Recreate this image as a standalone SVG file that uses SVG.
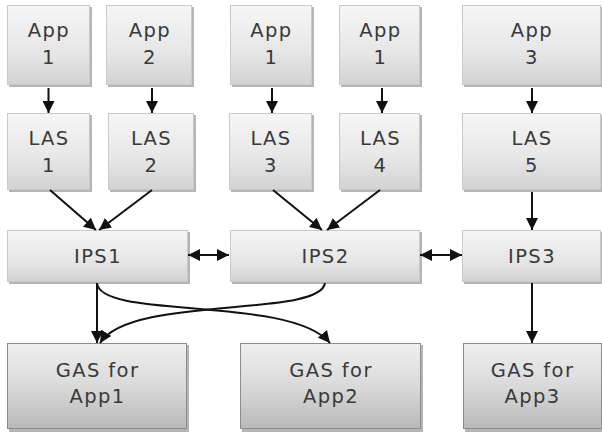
<svg xmlns="http://www.w3.org/2000/svg" width="602" height="436" viewBox="0 0 602 436">
<defs>
<linearGradient id="gl" x1="0" y1="0" x2="0" y2="1">
<stop offset="0" stop-color="#f6f6f6"/><stop offset="0.6" stop-color="#e6e6e6"/><stop offset="1" stop-color="#d2d2d2"/>
</linearGradient>
<linearGradient id="gd" x1="0" y1="0" x2="0" y2="1">
<stop offset="0" stop-color="#efefef"/><stop offset="0.5" stop-color="#dadada"/><stop offset="1" stop-color="#b8b8b8"/>
</linearGradient>
<marker id="ah" viewBox="0 0 10 10" refX="10" refY="5" markerWidth="12" markerHeight="12" markerUnits="userSpaceOnUse" orient="auto-start-reverse">
<path d="M0,0 L10,5 L0,10 z" fill="#111"/>
</marker>
</defs>
<style>
.sh{fill:#b5b5b5;}
.bl{fill:url(#gl);stroke:#cacaca;stroke-width:1;}
.bd{fill:url(#gd);stroke:#8c8c8c;stroke-width:1;}
text{font-family:"DejaVu Sans","Verdana",sans-serif;font-size:19.5px;letter-spacing:1.4px;fill:#3a3a3a;text-anchor:middle;}
.c{fill:none;stroke:#111;stroke-width:2;marker-end:url(#ah);}
.cb{fill:none;stroke:#111;stroke-width:2;marker-start:url(#ah);marker-end:url(#ah);}
</style>
<rect width="602" height="436" fill="#fff"/>
<g id="app1a"><rect class="sh" x="9" y="7" width="83" height="80"/><rect class="bl" x="7.5" y="5.5" width="82" height="79"/><text x="49" y="37">App</text><text x="49" y="64">1</text></g>
<g id="app2"><rect class="sh" x="108" y="7" width="86" height="80"/><rect class="bl" x="106.5" y="5.5" width="85" height="79"/><text x="150" y="37">App</text><text x="150" y="64">2</text></g>
<g id="app1b"><rect class="sh" x="232" y="7" width="82" height="80"/><rect class="bl" x="230.5" y="5.5" width="81" height="79"/><text x="271.5" y="37">App</text><text x="271.5" y="64">1</text></g>
<g id="app1c"><rect class="sh" x="341" y="7" width="81" height="80"/><rect class="bl" x="339.5" y="5.5" width="80" height="79"/><text x="380.5" y="37">App</text><text x="380.5" y="64">1</text></g>
<g id="app3"><rect class="sh" x="464" y="7" width="140" height="80"/><rect class="bl" x="462.5" y="5.5" width="138" height="79"/><text x="532" y="37">App</text><text x="532" y="64">3</text></g>

<g id="las1"><rect class="sh" x="9" y="115" width="83" height="77"/><rect class="bl" x="7.5" y="113.5" width="82" height="76"/><text x="49" y="145">LAS</text><text x="49" y="172">1</text></g>
<g id="las2"><rect class="sh" x="110" y="115" width="86" height="77"/><rect class="bl" x="108.5" y="113.5" width="85" height="76"/><text x="151.5" y="145">LAS</text><text x="151.5" y="172">2</text></g>
<g id="las3"><rect class="sh" x="231" y="115" width="83" height="77"/><rect class="bl" x="229.5" y="113.5" width="82" height="76"/><text x="271" y="145">LAS</text><text x="271" y="172">3</text></g>
<g id="las4"><rect class="sh" x="341" y="115" width="81" height="77"/><rect class="bl" x="339.5" y="113.5" width="80" height="76"/><text x="380.5" y="145">LAS</text><text x="380.5" y="172">4</text></g>
<g id="las5"><rect class="sh" x="464" y="115" width="140" height="77"/><rect class="bl" x="462.5" y="113.5" width="138" height="76"/><text x="532" y="145">LAS</text><text x="532" y="172">5</text></g>

<g id="ips1"><rect class="sh" x="9" y="232" width="181" height="52"/><rect class="bl" x="7.5" y="230.5" width="180" height="51"/><text x="98" y="263">IPS1</text></g>
<g id="ips2"><rect class="sh" x="232" y="232" width="190" height="52"/><rect class="bl" x="230.5" y="230.5" width="189" height="51"/><text x="325.5" y="263">IPS2</text></g>
<g id="ips3"><rect class="sh" x="464" y="232" width="140" height="52"/><rect class="bl" x="462.5" y="230.5" width="138" height="51"/><text x="532" y="263">IPS3</text></g>

<g id="gas1"><rect class="sh" x="9" y="345" width="180" height="87"/><rect class="bd" x="7.5" y="343.5" width="179" height="85"/><text x="97.5" y="377">GAS for</text><text x="97.5" y="403">App1</text></g>
<g id="gas2"><rect class="sh" x="242" y="345" width="181" height="87"/><rect class="bd" x="240.5" y="343.5" width="180" height="85"/><text x="331" y="377">GAS for</text><text x="331" y="403">App2</text></g>
<g id="gas3"><rect class="sh" x="465" y="345" width="139" height="87"/><rect class="bd" x="463.5" y="343.5" width="138" height="85"/><text x="532.5" y="377">GAS for</text><text x="532.5" y="403">App3</text></g>

<g id="connectors">
<path class="c" d="M48.5,88 V113"/>
<path class="c" d="M152,88 V113"/>
<path class="c" d="M272,88 V113"/>
<path class="c" d="M382,88 V113"/>
<path class="c" d="M532,88 V113"/>
<path class="c" d="M50,190 L96,230"/>
<path class="c" d="M152,190 L99,230"/>
<path class="c" d="M273,190 L322,230"/>
<path class="c" d="M380,190 L327,230"/>
<path class="c" d="M532,192 V230"/>
<path class="cb" d="M188,255 H229"/>
<path class="cb" d="M420,255 H462"/>
<path class="c" d="M97,283 V343"/>
<path class="c" d="M532,283 V343"/>
<path class="c" d="M97,283 C100,320 290,295 330,343"/>
<path class="c" d="M325,283 C320,318 130,295 100,343"/>
</g>
</svg>
